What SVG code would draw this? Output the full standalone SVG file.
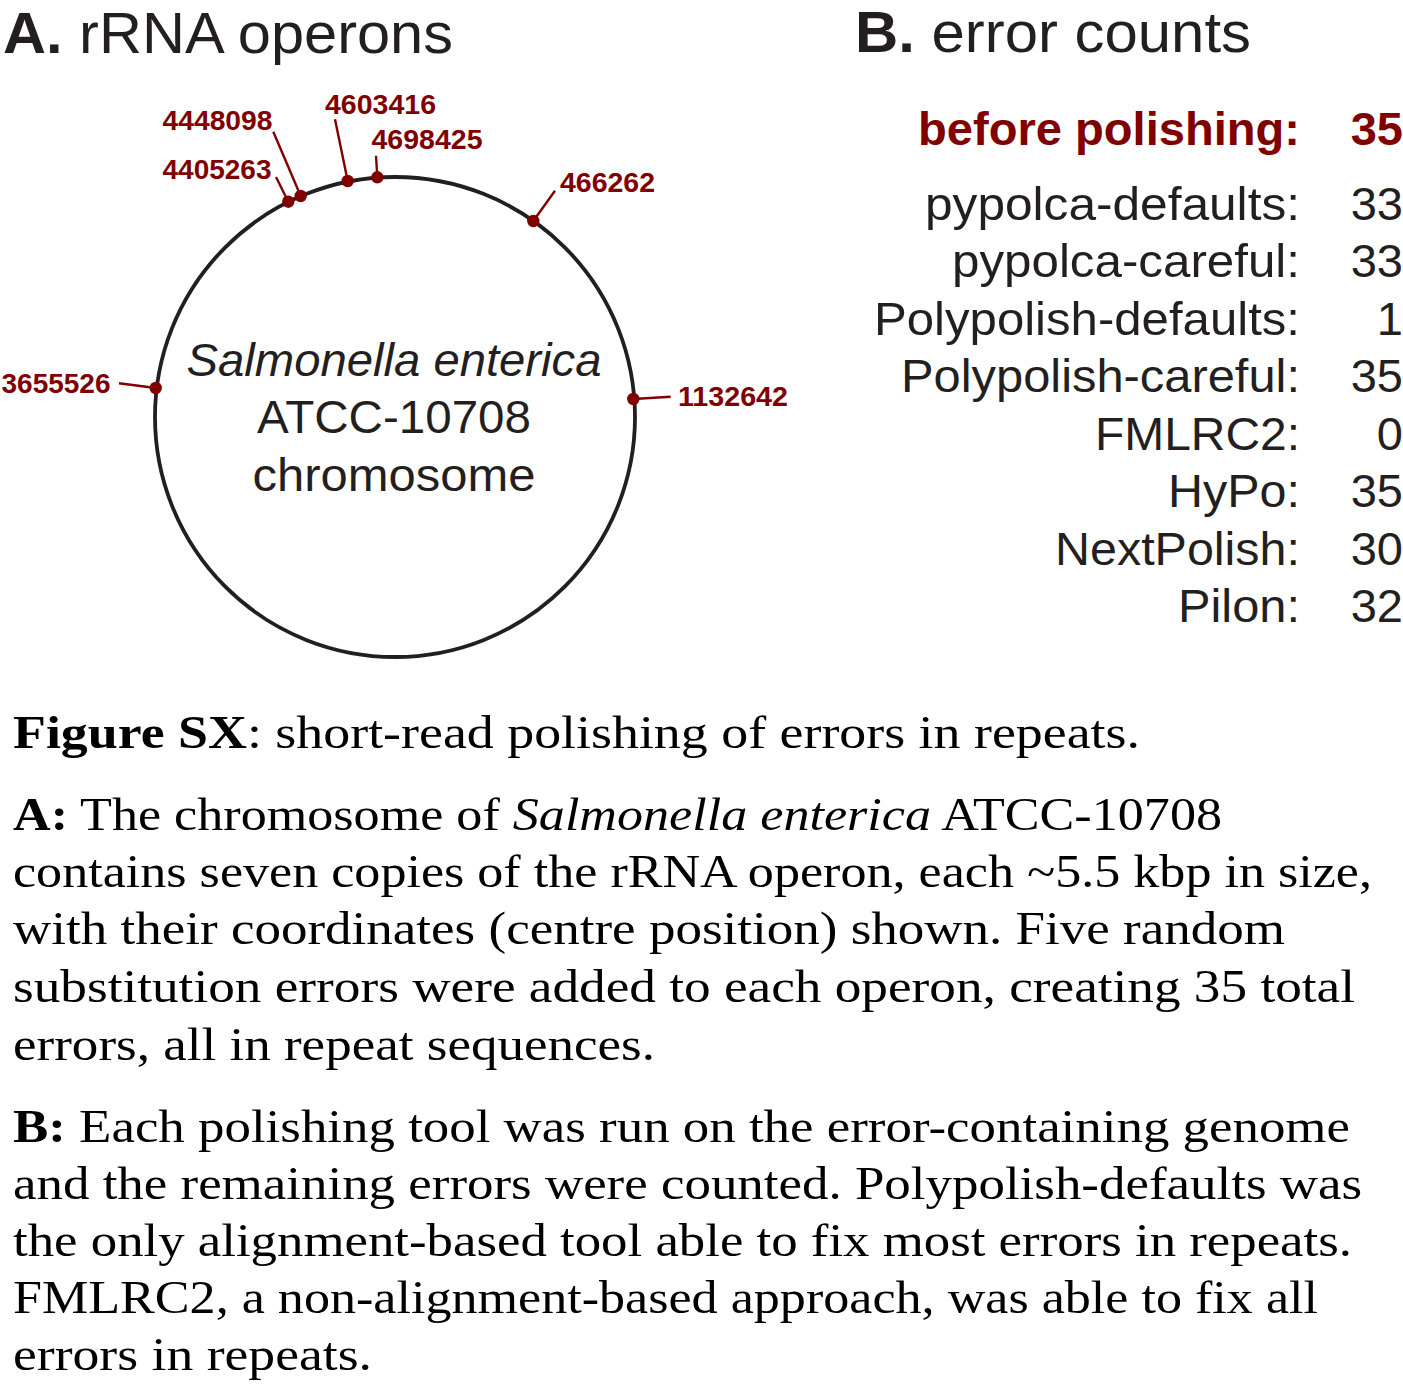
<svg xmlns="http://www.w3.org/2000/svg" width="1403" height="1387" viewBox="0 0 1403 1387">
<style>
.sans{font-family:"Liberation Sans",Arial,Helvetica,sans-serif;fill:#231f20}
.title{font-size:58px}
.lbl{font-family:"Liberation Sans",Arial,sans-serif;font-weight:bold;font-size:27px;fill:#800000}
.row{font-size:47px;text-anchor:end}
.ctr{font-size:46px;text-anchor:middle}
.cap{font-family:"Liberation Serif","Times New Roman",serif;font-size:47px;fill:#000}
.lead{stroke:#800000;stroke-width:2.4;fill:none}
.dot{fill:#800000}
</style>
<rect width="1403" height="1387" fill="#fff"/>

<g id="title-a"><text class="sans title" x="3" y="53" textLength="450" lengthAdjust="spacingAndGlyphs"><tspan font-weight="bold">A.</tspan> rRNA operons</text></g>
<g id="title-b"><text class="sans title" x="855" y="52" textLength="396" lengthAdjust="spacingAndGlyphs"><tspan font-weight="bold">B.</tspan> error counts</text></g>

<g id="chromosome">
<circle cx="395" cy="417" r="240" fill="none" stroke="#231f20" stroke-width="3.8"/>
<text class="sans ctr" x="394" y="376" font-style="italic" textLength="415" lengthAdjust="spacingAndGlyphs">Salmonella enterica</text>
<text class="sans ctr" x="394" y="433" textLength="274" lengthAdjust="spacingAndGlyphs">ATCC-10708</text>
<text class="sans ctr" x="394" y="491" textLength="283" lengthAdjust="spacingAndGlyphs">chromosome</text>
</g>

<g id="connectors">
<line class="lead" x1="276" y1="177" x2="288.3" y2="201.7"/>
<line class="lead" x1="273.3" y1="131.7" x2="300.7" y2="196"/>
<line class="lead" x1="335" y1="119.3" x2="347.7" y2="181"/>
<line class="lead" x1="376" y1="155.7" x2="377.3" y2="177.3"/>
<line class="lead" x1="555" y1="190.7" x2="533.3" y2="221"/>
<line class="lead" x1="670.7" y1="396.7" x2="633.3" y2="399"/>
<line class="lead" x1="119" y1="383.3" x2="155.7" y2="388"/>
</g>

<g id="operon-4405263"><circle class="dot" cx="288.3" cy="201.7" r="6.2"/><text class="lbl" x="162.5" y="179" textLength="109" lengthAdjust="spacingAndGlyphs">4405263</text></g>
<g id="operon-4448098"><circle class="dot" cx="300.7" cy="196" r="6.2"/><text class="lbl" x="162.5" y="129.5" textLength="110" lengthAdjust="spacingAndGlyphs">4448098</text></g>
<g id="operon-4603416"><circle class="dot" cx="347.7" cy="181" r="6.2"/><text class="lbl" x="325" y="113.5" textLength="111" lengthAdjust="spacingAndGlyphs">4603416</text></g>
<g id="operon-4698425"><circle class="dot" cx="377.3" cy="177.3" r="6.2"/><text class="lbl" x="371.5" y="149" textLength="111" lengthAdjust="spacingAndGlyphs">4698425</text></g>
<g id="operon-466262"><circle class="dot" cx="533.3" cy="221" r="6.2"/><text class="lbl" x="560" y="192" textLength="95" lengthAdjust="spacingAndGlyphs">466262</text></g>
<g id="operon-1132642"><circle class="dot" cx="633.3" cy="399" r="6.2"/><text class="lbl" x="678" y="405.5" textLength="110" lengthAdjust="spacingAndGlyphs">1132642</text></g>
<g id="operon-3655526"><circle class="dot" cx="155.7" cy="388" r="6.2"/><text class="lbl" x="1.5" y="392.5" textLength="109" lengthAdjust="spacingAndGlyphs">3655526</text></g>

<g id="error-counts">
<text class="sans row" x="1300" y="145" font-weight="bold" style="fill:#800000" font-size="48" textLength="382" lengthAdjust="spacingAndGlyphs">before polishing:</text>
<text class="sans row" x="1403" y="145" font-weight="bold" style="fill:#800000" font-size="48">35</text>
<text class="sans row" x="1300" y="220" textLength="375" lengthAdjust="spacingAndGlyphs">pypolca-defaults:</text><text class="sans row" x="1403" y="220">33</text>
<text class="sans row" x="1300" y="277" textLength="348" lengthAdjust="spacingAndGlyphs">pypolca-careful:</text><text class="sans row" x="1403" y="277">33</text>
<text class="sans row" x="1300" y="335" textLength="426" lengthAdjust="spacingAndGlyphs">Polypolish-defaults:</text><text class="sans row" x="1403" y="335">1</text>
<text class="sans row" x="1300" y="392" textLength="399" lengthAdjust="spacingAndGlyphs">Polypolish-careful:</text><text class="sans row" x="1403" y="392">35</text>
<text class="sans row" x="1300" y="450" textLength="205" lengthAdjust="spacingAndGlyphs">FMLRC2:</text><text class="sans row" x="1403" y="450">0</text>
<text class="sans row" x="1300" y="507" textLength="132" lengthAdjust="spacingAndGlyphs">HyPo:</text><text class="sans row" x="1403" y="507">35</text>
<text class="sans row" x="1300" y="565" textLength="245" lengthAdjust="spacingAndGlyphs">NextPolish:</text><text class="sans row" x="1403" y="565">30</text>
<text class="sans row" x="1300" y="622" textLength="122" lengthAdjust="spacingAndGlyphs">Pilon:</text><text class="sans row" x="1403" y="622">32</text>
</g>

<g id="caption">
<text class="cap" x="13" y="748" textLength="1127" lengthAdjust="spacingAndGlyphs"><tspan font-weight="bold">Figure SX</tspan>: short-read polishing of errors in repeats.</text>
<text class="cap" x="13" y="830" textLength="1209" lengthAdjust="spacingAndGlyphs"><tspan font-weight="bold">A:</tspan> The chromosome of <tspan font-style="italic">Salmonella enterica</tspan> ATCC-10708</text>
<text class="cap" x="13" y="887" textLength="1359" lengthAdjust="spacingAndGlyphs">contains seven copies of the rRNA operon, each ~5.5 kbp in size,</text>
<text class="cap" x="13" y="944" textLength="1272" lengthAdjust="spacingAndGlyphs">with their coordinates (centre position) shown. Five random</text>
<text class="cap" x="13" y="1002" textLength="1342" lengthAdjust="spacingAndGlyphs">substitution errors were added to each operon, creating 35 total</text>
<text class="cap" x="13" y="1060" textLength="642" lengthAdjust="spacingAndGlyphs">errors, all in repeat sequences.</text>
<text class="cap" x="13" y="1142" textLength="1337" lengthAdjust="spacingAndGlyphs"><tspan font-weight="bold">B:</tspan> Each polishing tool was run on the error-containing genome</text>
<text class="cap" x="13" y="1199" textLength="1349" lengthAdjust="spacingAndGlyphs">and the remaining errors were counted. Polypolish-defaults was</text>
<text class="cap" x="13" y="1256" textLength="1339" lengthAdjust="spacingAndGlyphs">the only alignment-based tool able to fix most errors in repeats.</text>
<text class="cap" x="13" y="1313" textLength="1305" lengthAdjust="spacingAndGlyphs">FMLRC2, a non-alignment-based approach, was able to fix all</text>
<text class="cap" x="13" y="1370" textLength="359" lengthAdjust="spacingAndGlyphs">errors in repeats.</text>
</g>
</svg>
